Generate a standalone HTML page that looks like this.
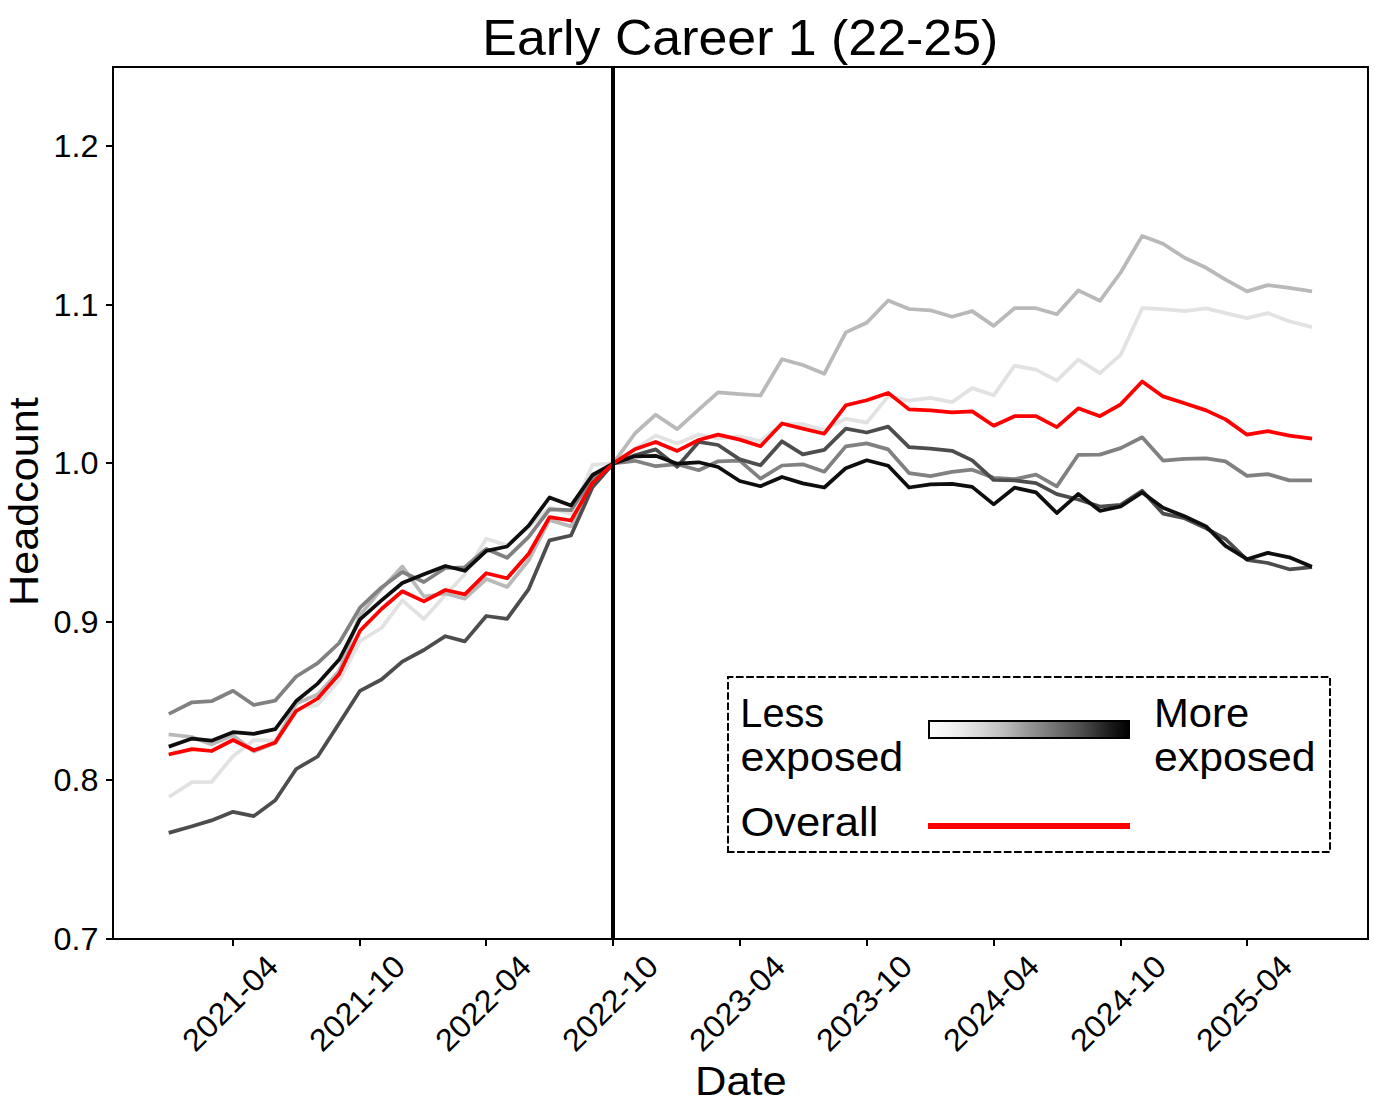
<!DOCTYPE html>
<html><head><meta charset="utf-8"><title>Early Career 1 (22-25)</title>
<style>html,body{margin:0;padding:0;background:#fff;width:1380px;height:1110px;overflow:hidden}</style>
</head><body>
<svg width="1380" height="1110" viewBox="0 0 1380 1110" style="display:block">
<defs><linearGradient id="gr" x1="0" y1="0" x2="1" y2="0">
<stop offset="0.00" stop-color="#ffffff"/>
<stop offset="0.05" stop-color="#f9f9f9"/>
<stop offset="0.10" stop-color="#f3f3f3"/>
<stop offset="0.15" stop-color="#ececec"/>
<stop offset="0.20" stop-color="#e2e2e2"/>
<stop offset="0.25" stop-color="#d9d9d9"/>
<stop offset="0.30" stop-color="#cecece"/>
<stop offset="0.35" stop-color="#c3c3c3"/>
<stop offset="0.40" stop-color="#b5b5b5"/>
<stop offset="0.45" stop-color="#a5a5a5"/>
<stop offset="0.50" stop-color="#959595"/>
<stop offset="0.55" stop-color="#888888"/>
<stop offset="0.60" stop-color="#7a7a7a"/>
<stop offset="0.65" stop-color="#6c6c6c"/>
<stop offset="0.70" stop-color="#5f5f5f"/>
<stop offset="0.75" stop-color="#515151"/>
<stop offset="0.80" stop-color="#404040"/>
<stop offset="0.85" stop-color="#2e2e2e"/>
<stop offset="0.90" stop-color="#1d1d1d"/>
<stop offset="0.95" stop-color="#0e0e0e"/>
<stop offset="1.00" stop-color="#000000"/>
</linearGradient></defs>
<rect width="1380" height="1110" fill="#fff"/>
<polyline points="170.5,796.0 192.1,782.2 211.5,782.0 233.0,756.3 253.8,740.0 275.3,740.5 296.2,709.0 317.7,704.8 339.2,680.3 360.0,641.0 381.5,628.0 402.3,600.4 423.9,619.0 445.4,595.0 464.8,574.3 486.3,538.7 507.1,545.4 528.7,527.0 549.5,507.5 571.0,514.0 592.5,464.9 613.3,463.4 634.9,449.0 655.7,435.5 677.2,443.4 698.7,434.5 718.1,438.5 739.7,436.7 760.5,441.0 782.0,424.0 802.8,424.2 824.3,430.0 845.8,418.7 866.7,422.6 888.2,396.4 909.0,400.6 930.5,397.8 952.0,402.2 972.2,388.1 993.7,395.3 1014.5,365.7 1036.0,369.7 1056.8,380.6 1078.3,359.7 1099.9,373.1 1120.7,354.8 1142.2,308.2 1163.0,309.2 1184.5,311.2 1206.1,308.4 1225.5,313.1 1247.0,318.1 1267.8,313.1 1289.3,321.2 1310.2,326.6" fill="none" stroke="#e2e2e2" stroke-width="3.75" stroke-linejoin="round" stroke-linecap="square"/>
<polyline points="170.5,734.6 192.1,737.0 211.5,744.5 233.0,735.2 253.8,751.5 275.3,743.0 296.2,703.5 317.7,694.5 339.2,671.0 360.0,615.0 381.5,589.0 402.3,566.4 423.9,596.5 445.4,593.5 464.8,598.7 486.3,579.0 507.1,587.0 528.7,560.3 549.5,520.0 571.0,526.4 592.5,482.7 613.3,463.4 634.9,433.5 655.7,414.7 677.2,429.1 698.7,409.7 718.1,392.4 739.7,394.2 760.5,395.5 782.0,359.2 802.8,365.0 824.3,373.7 845.8,332.4 866.7,322.7 888.2,300.5 909.0,309.0 930.5,310.3 952.0,316.7 972.2,311.1 993.7,325.9 1014.5,308.2 1036.0,308.2 1056.8,314.2 1078.3,290.4 1099.9,300.8 1120.7,272.5 1142.2,235.9 1163.0,243.8 1184.5,257.7 1206.1,267.8 1225.5,279.7 1247.0,291.4 1267.8,285.1 1289.3,287.8 1310.2,291.1" fill="none" stroke="#b9b9b9" stroke-width="3.75" stroke-linejoin="round" stroke-linecap="square"/>
<polyline points="170.5,713.1 192.1,702.3 211.5,701.2 233.0,690.8 253.8,705.0 275.3,700.6 296.2,676.5 317.7,663.2 339.2,643.0 360.0,607.7 381.5,587.4 402.3,572.0 423.9,582.0 445.4,568.0 464.8,567.3 486.3,549.0 507.1,557.8 528.7,536.8 549.5,509.4 571.0,510.2 592.5,478.0 613.3,463.4 634.9,460.8 655.7,466.2 677.2,464.2 698.7,470.2 718.1,461.3 739.7,460.7 760.5,478.6 782.0,465.5 802.8,464.3 824.3,471.7 845.8,446.4 866.7,443.4 888.2,449.4 909.0,473.1 930.5,476.2 952.0,471.9 972.2,469.7 993.7,477.8 1014.5,479.2 1036.0,474.7 1056.8,486.4 1078.3,454.8 1099.9,454.6 1120.7,448.1 1142.2,437.3 1163.0,460.6 1184.5,458.9 1206.1,458.3 1225.5,461.4 1247.0,475.9 1267.8,474.1 1289.3,480.4 1310.2,480.4" fill="none" stroke="#818181" stroke-width="3.75" stroke-linejoin="round" stroke-linecap="square"/>
<polyline points="170.5,832.4 192.1,826.2 211.5,820.4 233.0,811.8 253.8,816.1 275.3,800.3 296.2,769.0 317.7,756.5 339.2,723.2 360.0,690.8 381.5,679.5 402.3,661.6 423.9,650.0 445.4,636.2 464.8,641.4 486.3,616.0 507.1,618.8 528.7,589.1 549.5,540.3 571.0,535.5 592.5,487.3 613.3,463.4 634.9,455.3 655.7,449.4 677.2,466.7 698.7,441.9 718.1,445.0 739.7,459.4 760.5,465.3 782.0,441.3 802.8,454.3 824.3,449.9 845.8,428.6 866.7,432.5 888.2,426.6 909.0,447.2 930.5,448.6 952.0,450.8 972.2,460.4 993.7,480.0 1014.5,480.5 1036.0,483.2 1056.8,494.1 1078.3,499.5 1099.9,506.5 1120.7,504.9 1142.2,490.8 1163.0,513.6 1184.5,518.2 1206.1,528.3 1225.5,539.0 1247.0,559.8 1267.8,563.0 1289.3,569.3 1310.2,567.4" fill="none" stroke="#4d4d4d" stroke-width="3.75" stroke-linejoin="round" stroke-linecap="square"/>
<polyline points="170.5,746.0 192.1,738.6 211.5,740.7 233.0,732.2 253.8,733.8 275.3,729.2 296.2,701.0 317.7,683.6 339.2,659.5 360.0,619.3 381.5,600.4 402.3,583.0 423.9,574.3 445.4,566.0 464.8,570.8 486.3,550.8 507.1,546.5 528.7,525.7 549.5,497.5 571.0,505.6 592.5,475.0 613.3,463.4 634.9,456.3 655.7,455.8 677.2,463.7 698.7,462.3 718.1,467.0 739.7,481.0 760.5,486.2 782.0,477.0 802.8,483.4 824.3,487.5 845.8,468.2 866.7,460.3 888.2,465.7 909.0,487.5 930.5,484.3 952.0,483.8 972.2,486.9 993.7,504.4 1014.5,487.7 1036.0,492.3 1056.8,513.0 1078.3,493.9 1099.9,510.8 1120.7,506.5 1142.2,492.4 1163.0,507.8 1184.5,516.3 1206.1,526.4 1225.5,545.9 1247.0,559.2 1267.8,552.9 1289.3,557.3 1310.2,566.1" fill="none" stroke="#0e0e0e" stroke-width="3.75" stroke-linejoin="round" stroke-linecap="square"/>
<polyline points="170.5,754.1 192.1,749.1 211.5,751.0 233.0,740.0 253.8,750.2 275.3,742.4 296.2,711.0 317.7,698.5 339.2,674.0 360.0,630.8 381.5,609.0 402.3,591.3 423.9,601.4 445.4,590.0 464.8,594.3 486.3,573.2 507.1,578.2 528.7,553.7 549.5,517.2 571.0,520.5 592.5,483.0 613.3,463.4 634.9,449.2 655.7,441.9 677.2,450.9 698.7,440.0 718.1,434.6 739.7,439.6 760.5,446.2 782.0,423.5 802.8,428.6 824.3,433.7 845.8,405.3 866.7,400.3 888.2,392.9 909.0,409.4 930.5,410.3 952.0,412.4 972.2,411.4 993.7,425.7 1014.5,416.2 1036.0,416.2 1056.8,427.1 1078.3,408.3 1099.9,416.2 1120.7,404.3 1142.2,381.5 1163.0,396.4 1184.5,403.3 1206.1,410.4 1225.5,419.4 1247.0,434.7 1267.8,431.1 1289.3,435.6 1310.2,438.3" fill="none" stroke="#ff0000" stroke-width="3.75" stroke-linejoin="round" stroke-linecap="square"/>
<line x1="613" y1="67" x2="613" y2="939" stroke="#000" stroke-width="4"/>
<rect x="113" y="67" width="1255" height="872" fill="none" stroke="#000" stroke-width="2"/>
<line x1="233" y1="939" x2="233" y2="946" stroke="#000" stroke-width="2"/>
<line x1="360" y1="939" x2="360" y2="946" stroke="#000" stroke-width="2"/>
<line x1="486" y1="939" x2="486" y2="946" stroke="#000" stroke-width="2"/>
<line x1="613" y1="939" x2="613" y2="946" stroke="#000" stroke-width="2"/>
<line x1="740" y1="939" x2="740" y2="946" stroke="#000" stroke-width="2"/>
<line x1="867" y1="939" x2="867" y2="946" stroke="#000" stroke-width="2"/>
<line x1="994" y1="939" x2="994" y2="946" stroke="#000" stroke-width="2"/>
<line x1="1121" y1="939" x2="1121" y2="946" stroke="#000" stroke-width="2"/>
<line x1="1247" y1="939" x2="1247" y2="946" stroke="#000" stroke-width="2"/>
<line x1="106" y1="146" x2="113" y2="146" stroke="#000" stroke-width="2"/>
<line x1="106" y1="305" x2="113" y2="305" stroke="#000" stroke-width="2"/>
<line x1="106" y1="463" x2="113" y2="463" stroke="#000" stroke-width="2"/>
<line x1="106" y1="622" x2="113" y2="622" stroke="#000" stroke-width="2"/>
<line x1="106" y1="780" x2="113" y2="780" stroke="#000" stroke-width="2"/>
<line x1="106" y1="939" x2="113" y2="939" stroke="#000" stroke-width="2"/>
<g font-family="'Liberation Sans', sans-serif" fill="#000">
<text x="482.30" y="54.90" font-size="49.40" textLength="516.00" lengthAdjust="spacingAndGlyphs">Early Career 1 (22-25)</text>
<text x="98.50" y="156.70" font-size="31.20" text-anchor="end" textLength="45.00" lengthAdjust="spacingAndGlyphs">1.2</text>
<text x="98.50" y="315.70" font-size="31.20" text-anchor="end" textLength="45.00" lengthAdjust="spacingAndGlyphs">1.1</text>
<text x="98.50" y="473.70" font-size="31.20" text-anchor="end" textLength="45.00" lengthAdjust="spacingAndGlyphs">1.0</text>
<text x="98.50" y="632.70" font-size="31.20" text-anchor="end" textLength="45.00" lengthAdjust="spacingAndGlyphs">0.9</text>
<text x="98.50" y="790.70" font-size="31.20" text-anchor="end" textLength="45.00" lengthAdjust="spacingAndGlyphs">0.8</text>
<text x="98.50" y="949.70" font-size="31.20" text-anchor="end" textLength="45.00" lengthAdjust="spacingAndGlyphs">0.7</text>
<text transform="translate(230.20,1003.30) rotate(-45)" x="0" y="10.70" font-size="31.20" text-anchor="middle" textLength="120.00" lengthAdjust="spacingAndGlyphs">2021-04</text>
<text transform="translate(357.20,1003.30) rotate(-45)" x="0" y="10.70" font-size="31.20" text-anchor="middle" textLength="120.00" lengthAdjust="spacingAndGlyphs">2021-10</text>
<text transform="translate(483.20,1003.30) rotate(-45)" x="0" y="10.70" font-size="31.20" text-anchor="middle" textLength="120.00" lengthAdjust="spacingAndGlyphs">2022-04</text>
<text transform="translate(610.20,1003.30) rotate(-45)" x="0" y="10.70" font-size="31.20" text-anchor="middle" textLength="120.00" lengthAdjust="spacingAndGlyphs">2022-10</text>
<text transform="translate(737.20,1003.30) rotate(-45)" x="0" y="10.70" font-size="31.20" text-anchor="middle" textLength="120.00" lengthAdjust="spacingAndGlyphs">2023-04</text>
<text transform="translate(864.20,1003.30) rotate(-45)" x="0" y="10.70" font-size="31.20" text-anchor="middle" textLength="120.00" lengthAdjust="spacingAndGlyphs">2023-10</text>
<text transform="translate(991.20,1003.30) rotate(-45)" x="0" y="10.70" font-size="31.20" text-anchor="middle" textLength="120.00" lengthAdjust="spacingAndGlyphs">2024-04</text>
<text transform="translate(1118.20,1003.30) rotate(-45)" x="0" y="10.70" font-size="31.20" text-anchor="middle" textLength="120.00" lengthAdjust="spacingAndGlyphs">2024-10</text>
<text transform="translate(1244.20,1003.30) rotate(-45)" x="0" y="10.70" font-size="31.20" text-anchor="middle" textLength="120.00" lengthAdjust="spacingAndGlyphs">2025-04</text>
<text x="695.00" y="1094.80" font-size="40.70" textLength="91.80" lengthAdjust="spacingAndGlyphs">Date</text>
<text transform="translate(37.80,606.00) rotate(-90)" x="0" y="0" font-size="40.70" textLength="208.70" lengthAdjust="spacingAndGlyphs">Headcount</text>
<text x="740.30" y="727.00" font-size="40.70" textLength="83.90" lengthAdjust="spacingAndGlyphs">Less</text>
<text x="740.60" y="771.20" font-size="40.70" textLength="162.70" lengthAdjust="spacingAndGlyphs">exposed</text>
<text x="1154.00" y="727.00" font-size="40.70" textLength="95.20" lengthAdjust="spacingAndGlyphs">More</text>
<text x="1154.00" y="771.20" font-size="40.70" textLength="161.60" lengthAdjust="spacingAndGlyphs">exposed</text>
<text x="740.40" y="836.10" font-size="40.70" textLength="138.00" lengthAdjust="spacingAndGlyphs">Overall</text>
</g>
<path d="M728,852 L1330,852 L1330,677 L728,677 Z" fill="none" stroke="#000" stroke-width="2" stroke-dasharray="7.7 2.56" stroke-dashoffset="1.2"/>
<rect x="929" y="721" width="200" height="17" fill="url(#gr)" stroke="#000" stroke-width="2"/>
<line x1="928" y1="826" x2="1130" y2="826" stroke="#ff0000" stroke-width="6"/>
</svg>
</body></html>
